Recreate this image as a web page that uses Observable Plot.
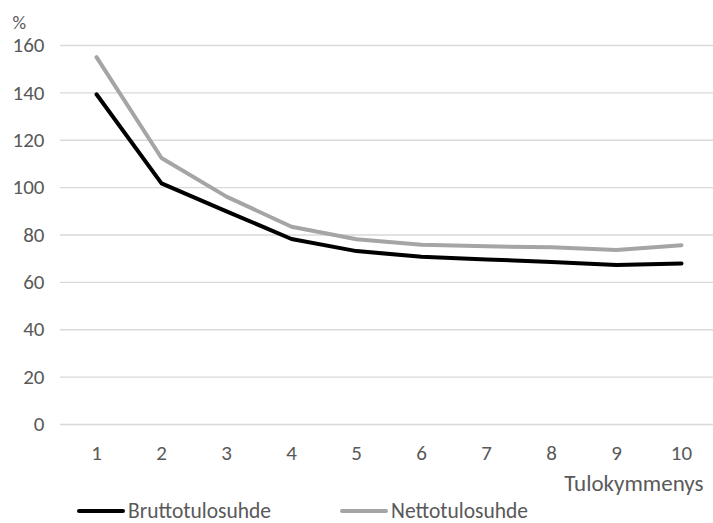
<!DOCTYPE html>
<html>
<head>
<meta charset="utf-8">
<script src="https://cdn.jsdelivr.net/npm/d3@7"></script>
<script src="https://cdn.jsdelivr.net/npm/@observablehq/plot@0.6"></script>
<style>
  html, body { margin: 0; padding: 0; background: #fff; }
  body { position: relative; width: 713px; height: 523px; overflow: hidden; font-family: Carlito, Lato, "Noto Sans", sans-serif; }
  #chart { height: 500px; }
  #legend { position: absolute; left: 0; top: 500px; width: 713px; height: 23px; font-size: 21.5px; color: #595959; }
  .item { position: absolute; top: 1px; display: flex; align-items: center; height: 20px; line-height: 20px; }
  .sw { display: inline-block; width: 48px; height: 4px; margin-right: 3px; border-radius: 2px; }
</style>
</head>
<body>
<div id="chart"></div>
<div id="legend"></div>
<script>
const deciles = [1, 2, 3, 4, 5, 6, 7, 8, 9, 10];
const brutto = [139.4, 101.8, 90.0, 78.3, 73.2, 70.8, 69.7, 68.6, 67.3, 68.0];
const netto = [155.1, 112.5, 96.2, 83.5, 78.2, 75.9, 75.2, 74.8, 73.7, 75.7];
const yTicks = [0, 20, 40, 60, 80, 100, 120, 140, 160];
const seriesNames = ["Bruttotulosuhde", "Nettotulosuhde"];
const seriesColors = ["#000000", "#a5a5a5"];
const yUnit = "%";
const xTitle = "Tulokymmenys";

const rows = [];
deciles.forEach((d, i) => {
  rows.push({ decile: d, value: brutto[i], series: seriesNames[0] });
  rows.push({ decile: d, value: netto[i], series: seriesNames[1] });
});

const textColor = "#595959";
const font = "Carlito, Lato, 'Noto Sans', sans-serif";
const fs = 21;

const chart = Plot.plot({
  width: 713,
  height: 500,
  marginLeft: 60,
  marginRight: 0,
  marginTop: 45,
  marginBottom: 76,
  style: { fontFamily: font, fontSize: fs + "px", color: textColor, background: "#fff", overflow: "visible" },
  x: { type: "point", domain: deciles, range: [92.7, 684], padding: 0 },
  y: { domain: [0, 160], ticks: yTicks },
  marks: [
    Plot.ruleY(yTicks, { stroke: "#d9d9d9", strokeWidth: 1.3 }),
    Plot.axisY({ ticks: yTicks, tickSize: 0, tickPadding: 16, label: null, fill: textColor, fontSize: fs }),
    Plot.axisX({ tickSize: 0, tickPadding: 21, label: null, fill: textColor, fontSize: fs }),
    Plot.line(rows, {
      x: "decile", y: "value", z: "series",
      stroke: "series",
      strokeWidth: 4, strokeLinejoin: "round", strokeLinecap: "round"
    }),
    Plot.text([yUnit], { frameAnchor: "top-left", dx: -48, dy: -30, fill: textColor, fontSize: 19, textAnchor: "start" }),
    Plot.text([xTitle], { frameAnchor: "bottom-right", dx: -10, dy: 66, fill: textColor, fontSize: 23, textAnchor: "end" })
  ],
  color: { domain: seriesNames, range: seriesColors }
});
document.getElementById("chart").appendChild(chart);

const legend = document.getElementById("legend");
const legendX = [77, 340];
seriesNames.forEach((name, i) => {
  const item = document.createElement("div");
  item.className = "item";
  item.style.left = legendX[i] + "px";
  const sw = document.createElement("span");
  sw.className = "sw";
  sw.style.background = seriesColors[i];
  item.appendChild(sw);
  item.appendChild(document.createTextNode(name));
  legend.appendChild(item);
});
</script>
</body>
</html>
